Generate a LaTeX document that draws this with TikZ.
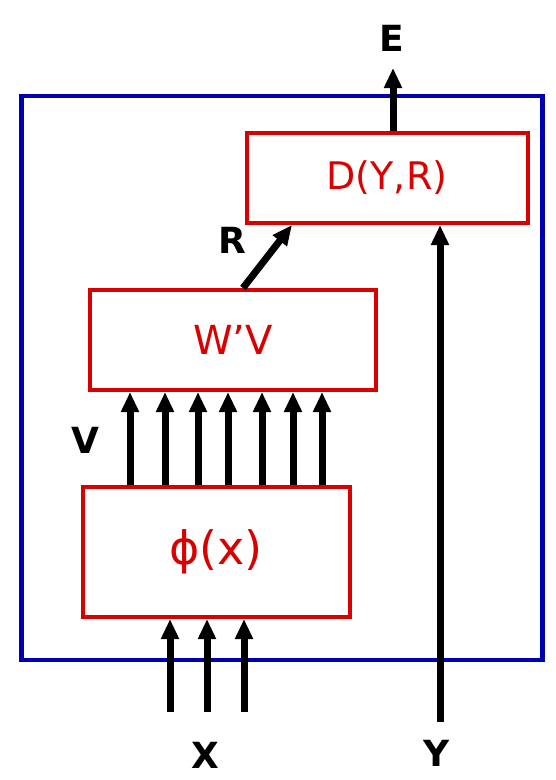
\documentclass[tikz,border=0pt]{standalone}
\usepackage{fontspec}
\setmainfont{DejaVu Sans}
\usetikzlibrary{arrows.meta,calc}
\begin{document}
\begin{tikzpicture}[x=1pt,y=-1pt,
  block/.style={draw=red!85!black,line width=4pt,fill=white,text=red!85!black,inner sep=0pt},
  flow/.style={-{Triangle[length=20pt,width=17pt]},line width=7pt},
  tag/.style={font=\fontsize{36}{36}\selectfont\bfseries}]
  \useasboundingbox (0,0) rectangle (556,780);
  \node[draw=blue!70!black,line width=4.5pt,minimum width=521pt,minimum height=564pt] (frame) at (282,378) {};
  \node[block,minimum width=281pt,minimum height=90pt,font=\fontsize{38}{38}\selectfont] (d) at (387,178) {D(Y,R)};
  \node[block,minimum width=286pt,minimum height=100pt,font=\fontsize{40}{40}\selectfont] (wv) at (233,340) {W'V};
  \node[block,minimum width=267pt,minimum height=130pt,font=\fontsize{46}{46}\selectfont] (phi) at (216,552) {ϕ(x)};
  \coordinate (eout) at (393,68);
  \coordinate (xin) at (207,712);
  \coordinate (yin) at (440,722);
  \node[tag] (elab) at (392,38) {E};
  \node[tag] (rlab) at (232,240) {R};
  \node[tag] (vlab) at (85,440) {V};
  \node[tag] (xlab) at (205,755) {X};
  \node[tag] (ylab) at (437,753) {Y};
  \draw[flow] (d.north -| eout) -- (eout);
  \draw[flow] ([xshift=10pt]wv.north) -- ([xshift=-95pt]d.south);
  \foreach \x in {130,165,198,228,262,293,322}
    \draw[flow] (phi.north -| \x,0) -- (wv.south -| \x,0);
  \foreach \d in {-37,0,37}
    \draw[flow] ($(xin)+(\d,0)$) -- ($(xin |- phi.south)+(\d,0)$);
  \draw[flow] (yin) -- (yin |- d.south);
\end{tikzpicture}
\end{document}
